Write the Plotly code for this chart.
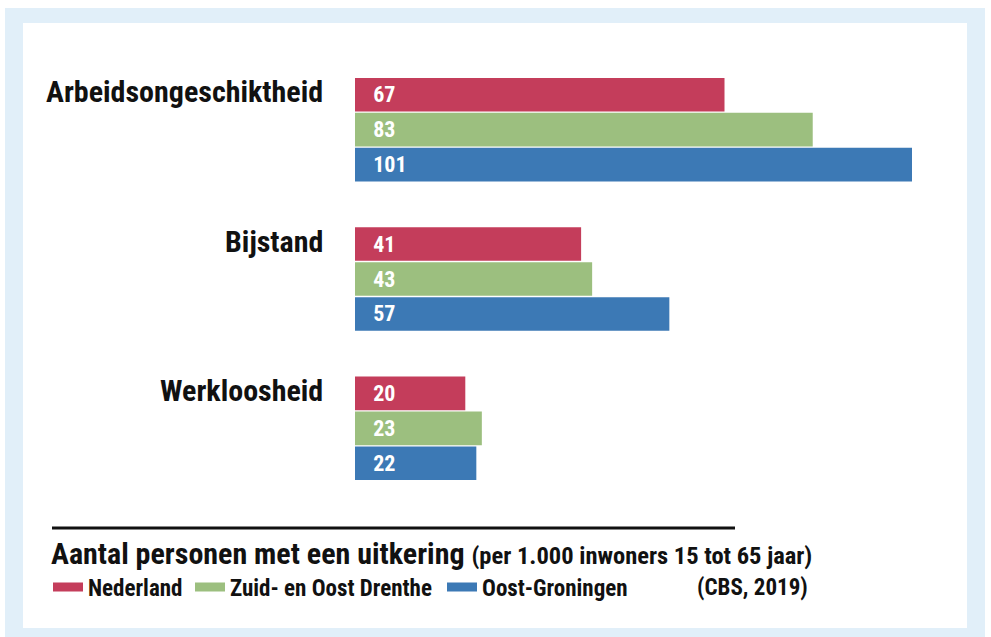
import plotly.graph_objects as go

categories = ["Arbeidsongeschiktheid", "Bijstand", "Werkloosheid"]
series_names = ["Nederland", "Zuid- en Oost Drenthe", "Oost-Groningen"]
nederland = [67, 41, 20]
zuid_oost_drenthe = [83, 43, 23]
oost_groningen = [101, 57, 22]
values = [nederland, zuid_oost_drenthe, oost_groningen]
colors = ["#c43d5b", "#9cbf7f", "#3c79b5"]

title_main = "Aantal personen met een uitkering"
title_sub = "(per 1.000 inwoners 15 tot 65 jaar)"
source = "(CBS, 2019)"

FONT = "Liberation Sans Narrow, Roboto Condensed, DejaVu Sans Condensed, Arial Narrow, sans-serif"

W, H = 991, 637
L, R, T, B = 355, 79, 55, 134
PW, PH = W - L - R, H - T - B


def px2x(px):
    return (px - L) / PW


def px2y(py):
    return (H - B - py) / PH


legend_ids = ["legend", "legend2", "legend3"]
legend_px = [48, 190, 442]

fig = go.Figure()
for name, vals, col, lid in zip(series_names, values, colors, legend_ids):
    fig.add_trace(go.Bar(
        y=categories, x=vals, orientation="h", name=name,
        marker=dict(color=col, line=dict(width=0)),
        text=vals, texttemplate="\u00a0\u00a0\u00a0<b>%{x}</b>",
        textposition="inside", insidetextanchor="start",
        textfont=dict(family=FONT, size=22, color="white"),
        showlegend=False, legendgroup=name, hoverinfo="x+name",
    ))
    # legend entry (wide swatch)
    fig.add_trace(go.Scatter(
        x=[None], y=[None], mode="lines", name="<b>%s</b>" % name,
        line=dict(color=col, width=9), legendgroup=name, showlegend=True,
        legend=lid,
    ))

shapes = [
    dict(type="rect", xref="paper", yref="paper", layer="below",
         x0=px2x(5), x1=px2x(985), y0=px2y(637), y1=px2y(8),
         fillcolor="#e1eff9", line=dict(width=0)),
    dict(type="rect", xref="paper", yref="paper", layer="below",
         x0=px2x(23), x1=px2x(967), y0=px2y(628), y1=px2y(23),
         fillcolor="white", line=dict(width=0)),
    dict(type="line", xref="paper", yref="paper",
         x0=px2x(52), x1=px2x(735), y0=px2y(528), y1=px2y(528),
         line=dict(color="#111111", width=3)),
]

annotations = []
for cat in categories:
    annotations.append(dict(
        x=0, y=cat, xref="x", yref="y", text="<b>%s</b>" % cat,
        xanchor="right", yanchor="middle", xshift=-30, yshift=38,
        showarrow=False, font=dict(family=FONT, size=30, color="#111111"),
    ))
annotations.append(dict(
    x=px2x(810), y=px2y(587), xref="paper", yref="paper",
    text="<b>%s</b>" % source, xanchor="right", yanchor="middle",
    showarrow=False, font=dict(family=FONT, size=23, color="#111111"),
))

legend_common = dict(
    orientation="h", xanchor="left", y=px2y(587), yanchor="middle",
    font=dict(family=FONT, size=23, color="#111111"),
    bgcolor="rgba(0,0,0,0)", itemclick="toggleothers",
)

fig.update_layout(
    width=W, height=H,
    margin=dict(l=L, r=R, t=T, b=B, pad=0),
    paper_bgcolor="white", plot_bgcolor="rgba(0,0,0,0)",
    barmode="group", bargap=0.297, bargroupgap=0.04,
    xaxis=dict(range=[0, 101], visible=False, fixedrange=True),
    yaxis=dict(autorange="reversed", visible=False, fixedrange=True),
    shapes=shapes, annotations=annotations,
    title=dict(
        text="<b>%s</b> <span style='font-size:24.5px'><b>%s</b></span>" % (title_main, title_sub),
        x=51 / W, xanchor="left", xref="container",
        y=1 - 553 / H, yanchor="middle", yref="container",
        font=dict(family=FONT, size=30, color="#111111"),
    ),
    legend=dict(x=px2x(legend_px[0]), **legend_common),
    legend2=dict(x=px2x(legend_px[1]), **legend_common),
    legend3=dict(x=px2x(legend_px[2]), **legend_common),
    showlegend=True,
)

fig.write_html("out.html", config={"displayModeBar": False},
               post_script="document.body.style.margin='0';")
